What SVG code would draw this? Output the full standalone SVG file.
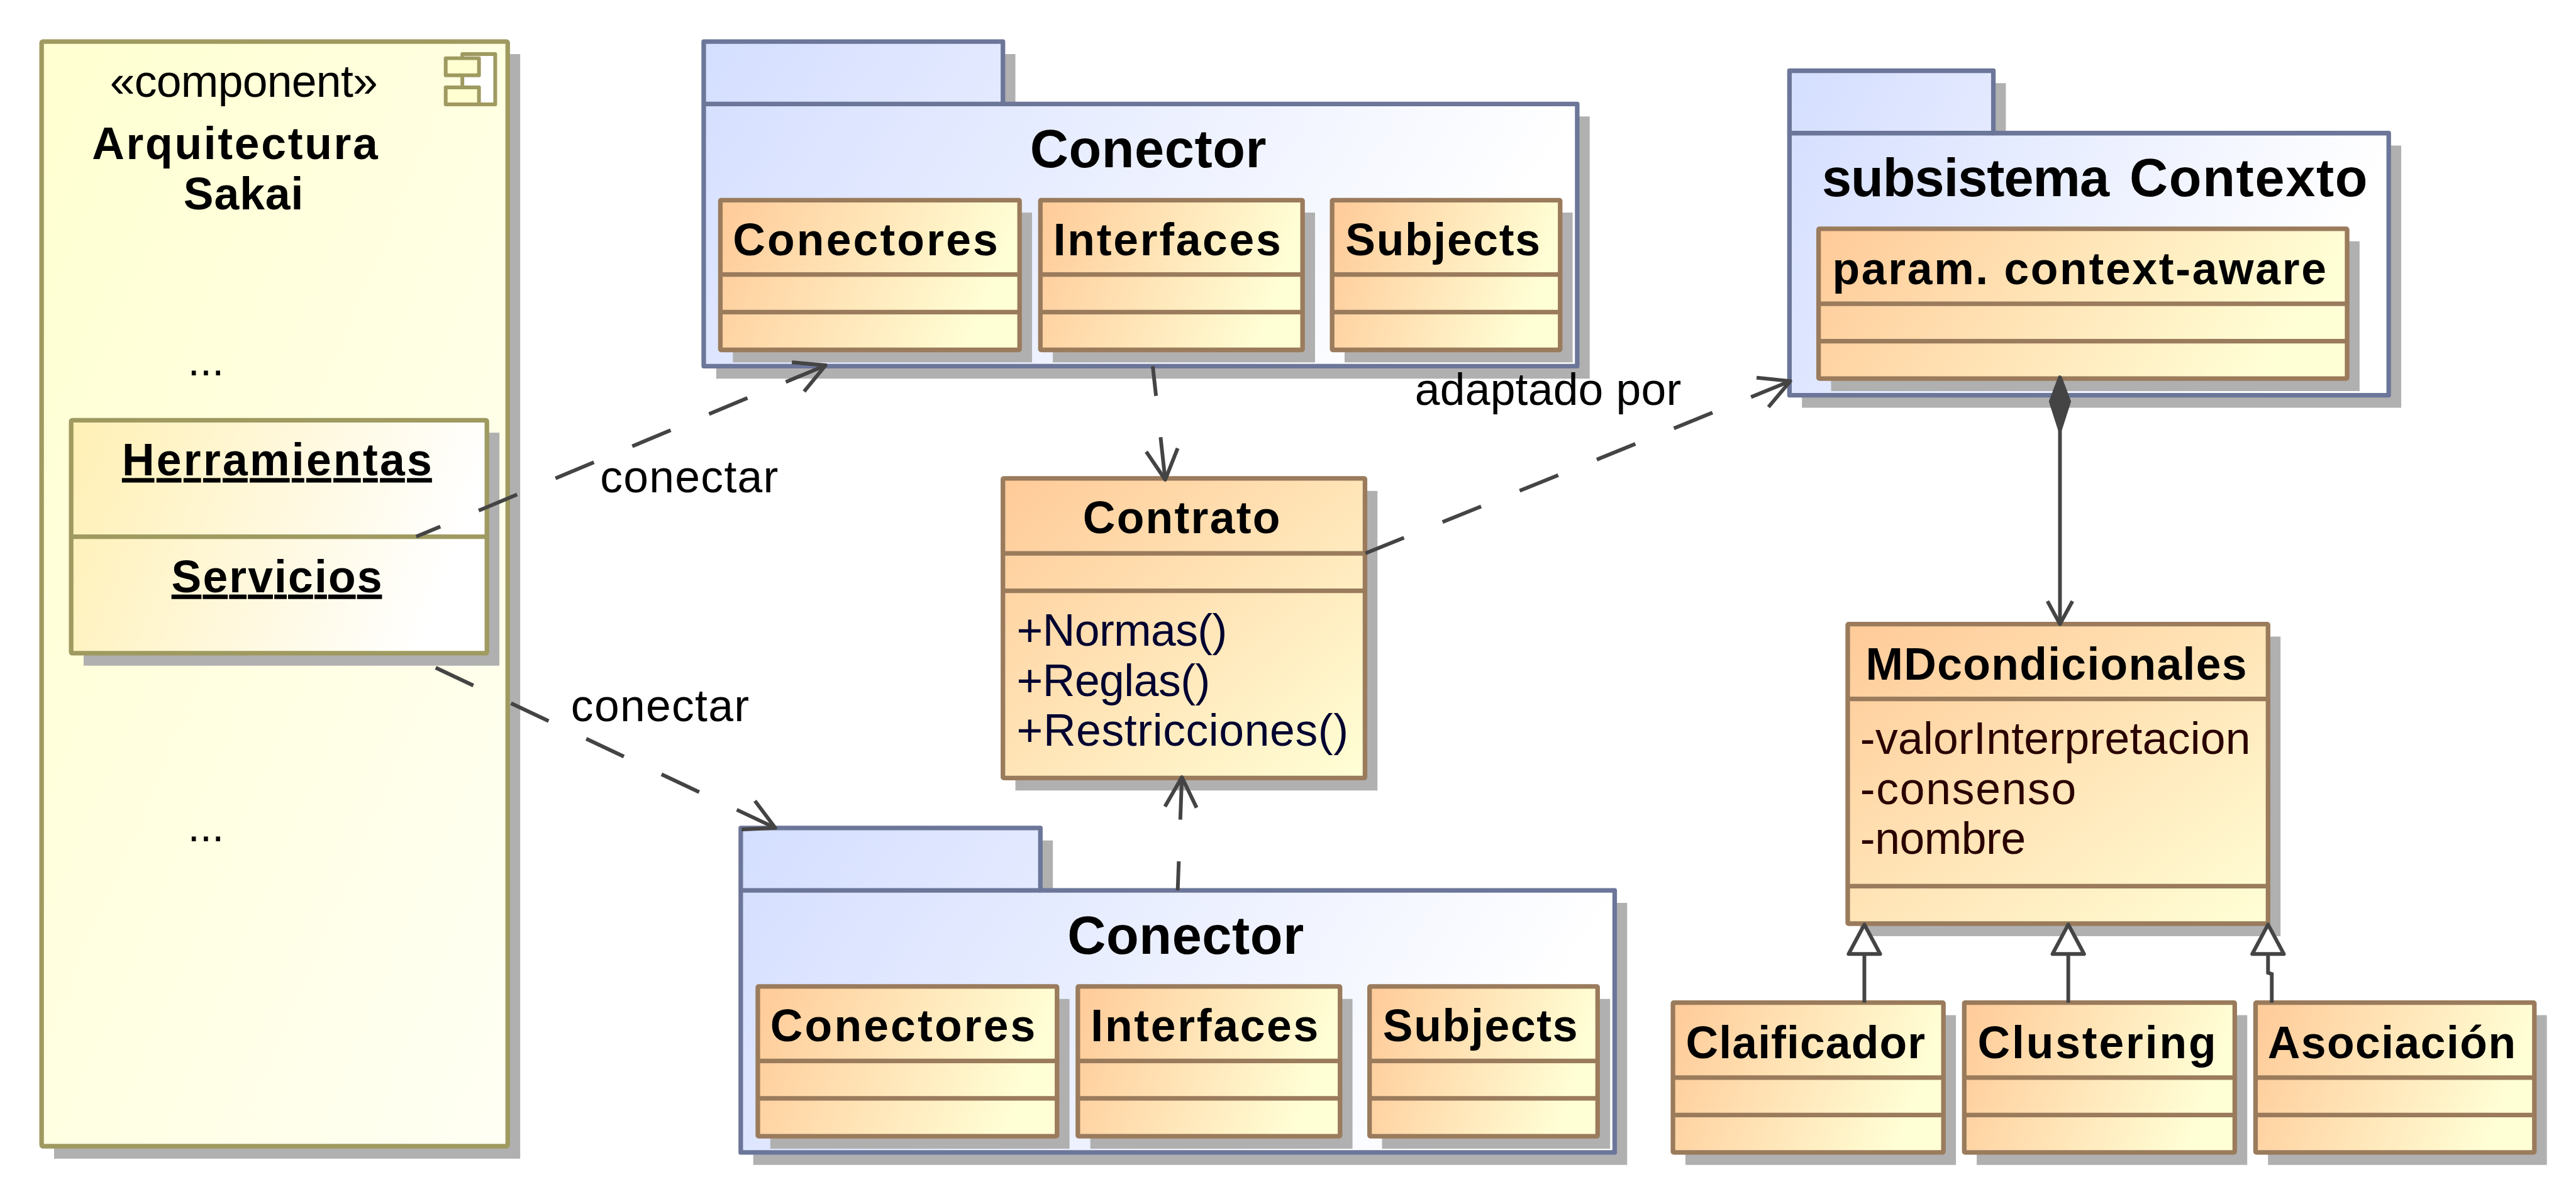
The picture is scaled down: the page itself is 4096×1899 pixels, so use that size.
<svg xmlns="http://www.w3.org/2000/svg" width="4096" height="1899" viewBox="0 0 4096 1899">
<style>
text{font-family:"Liberation Sans",Arial,sans-serif;font-size:108px;fill:#000}
.b{font-weight:bold}
.h{font-weight:bold;font-size:128px}
.u{text-decoration:underline}
.op{fill:#000030}
.at{fill:#2a0000}
.sh{fill:#b0b0b0;stroke:none}
.cl{stroke:#9a7b5c;stroke-width:11;stroke-linejoin:round;fill:url(#orW)}
.cd{stroke:#9a7b5c;stroke-width:11;stroke-linejoin:round;fill:url(#orD)}
.cs{stroke:#9a7b5c;stroke-width:11;fill:none}
.pk{stroke:#6c7699;stroke-width:11;stroke-linejoin:round;fill:url(#bl)}
.ol{stroke:#9f9a60;stroke-width:11;stroke-linejoin:round}
.conn{stroke:#444;stroke-width:9;fill:none}
.dash{stroke-dasharray:100 100;marker-end:url(#open)}
.gen{marker-end:url(#tri)}
.ah{stroke:#444;stroke-width:9;fill:none;stroke-linejoin:round}
</style>
<defs>
<linearGradient id="orW" x1="0" y1="0" x2="1" y2="0.2"><stop offset="0" stop-color="#ffca98"/><stop offset="1" stop-color="#ffffd6"/></linearGradient>
<linearGradient id="orD" x1="0" y1="0" x2="1" y2="1"><stop offset="0" stop-color="#ffca98"/><stop offset="1" stop-color="#ffffd6"/></linearGradient>
<linearGradient id="bl" x1="0" y1="0" x2="1" y2="0.25"><stop offset="0" stop-color="#d4deff"/><stop offset="1" stop-color="#ffffff"/></linearGradient>
<linearGradient id="cmp" x1="0" y1="0" x2="1" y2="1"><stop offset="0" stop-color="#ffffd0"/><stop offset="1" stop-color="#fffff4"/></linearGradient>
<linearGradient id="ins" x1="0" y1="0" x2="1" y2="0.2"><stop offset="0" stop-color="#fff0b4"/><stop offset="1" stop-color="#ffffff"/></linearGradient>
<marker id="open" markerUnits="userSpaceOnUse" markerWidth="100" markerHeight="100" refX="90" refY="50" orient="auto" overflow="visible"><path class="ah" d="M18 12L90 50L18 88"/></marker>
<marker id="openS" markerUnits="userSpaceOnUse" markerWidth="100" markerHeight="100" refX="90" refY="50" orient="auto" overflow="visible"><path class="ah" d="M35 20L90 50L35 80"/></marker>
<marker id="tri" markerUnits="userSpaceOnUse" markerWidth="100" markerHeight="100" refX="90" refY="50" orient="auto" overflow="visible"><path d="M19 12L90 50L19 88Z" fill="#fff" stroke="#444" stroke-width="9" stroke-linejoin="round"/></marker>
</defs>
<rect width="4096" height="1899" fill="#fff"/>
<g transform="scale(0.66171)">

<g id="comp-sakai">
<rect class="sh" x="130" y="130" width="1120" height="2655"/>
<rect class="ol" x="100" y="100" width="1120" height="2655" rx="3" fill="url(#cmp)"/>
<path d="M1111 130H1190V251H1111Z" fill="#fff" stroke="#9f9a60" stroke-width="9" stroke-linejoin="round"/>
<rect x="1071" y="140" width="80" height="41" fill="#ffffd2" stroke="#9f9a60" stroke-width="9" stroke-linejoin="round"/>
<rect x="1071" y="210" width="80" height="41" fill="#ffffd2" stroke="#9f9a60" stroke-width="9" stroke-linejoin="round"/>
<text x="264" y="233" textLength="644">«component»</text>
<text class="b" x="221" y="383" textLength="687">Arquitectura</text>
<text class="b" x="441" y="503" textLength="288">Sakai</text>
<text x="451" y="902" style="font-size:105px">...</text>
<text x="451" y="2022" style="font-size:105px">...</text>
</g>

<g id="inst-herramientas">
<rect class="sh" x="201" y="1040" width="999" height="560"/>
<rect class="ol" x="171" y="1010" width="999" height="560" rx="3" fill="url(#ins)"/>
<path class="ol" d="M171 1290H1170" fill="none"/>
<text class="b u" x="293" y="1143" textLength="745">Herramientas</text>
<text class="b u" x="412" y="1423" textLength="506">Servicios</text>
</g>

<g id="pkg-conector-top">
<path class="sh" d="M1721 130H2440V280H3820V910H1721Z"/>
<path class="pk" d="M1691 100H2410V250H3790V880H1691Z"/>
<path class="cs" style="stroke:#6c7699" d="M1691 250H2410"/>
<text class="h" x="2475" y="402" textLength="568">Conector</text>
<g id="cls-conectores-top">
<rect class="sh" x="1761" y="511" width="719" height="360"/>
<rect class="cl" x="1731" y="481" width="719" height="360" rx="2"/>
<path class="cs" d="M1731 660H2450M1731 750H2450"/>
<text class="b" x="1761" y="613" textLength="637">Conectores</text>
</g>
<g id="cls-interfaces-top">
<rect class="sh" x="2530" y="511" width="630" height="360"/>
<rect class="cl" x="2500" y="481" width="630" height="360" rx="2"/>
<path class="cs" d="M2500 660H3130M2500 750H3130"/>
<text class="b" x="2531" y="613" textLength="547">Interfaces</text>
</g>
<g id="cls-subjects-top">
<rect class="sh" x="3231" y="511" width="548" height="360"/>
<rect class="cl" x="3201" y="481" width="548" height="360" rx="2"/>
<path class="cs" d="M3201 660H3749M3201 750H3749"/>
<text class="b" x="3233" y="613" textLength="468">Subjects</text>
</g>
</g>

<g id="pkg-conector-bottom">
<path class="sh" d="M1810 2020H2530V2170H3910V2800H1810Z"/>
<path class="pk" d="M1780 1990H2500V2140H3880V2770H1780Z"/>
<path class="cs" style="stroke:#6c7699" d="M1780 2140H2500"/>
<text class="h" x="2565" y="2292" textLength="568">Conector</text>
<g id="cls-conectores-bottom">
<rect class="sh" x="1851" y="2401" width="719" height="360"/>
<rect class="cl" x="1821" y="2371" width="719" height="360" rx="2"/>
<path class="cs" d="M1821 2550H2540M1821 2640H2540"/>
<text class="b" x="1851" y="2503" textLength="637">Conectores</text>
</g>
<g id="cls-interfaces-bottom">
<rect class="sh" x="2620" y="2401" width="630" height="360"/>
<rect class="cl" x="2590" y="2371" width="630" height="360" rx="2"/>
<path class="cs" d="M2590 2550H3220M2590 2640H3220"/>
<text class="b" x="2621" y="2503" textLength="547">Interfaces</text>
</g>
<g id="cls-subjects-bottom">
<rect class="sh" x="3321" y="2401" width="548" height="360"/>
<rect class="cl" x="3291" y="2371" width="548" height="360" rx="2"/>
<path class="cs" d="M3291 2550H3839M3291 2640H3839"/>
<text class="b" x="3323" y="2503" textLength="468">Subjects</text>
</g>
</g>

<g id="cls-contrato">
<rect class="sh" x="2440" y="1180" width="870" height="720"/>
<rect class="cd" x="2410" y="1150" width="870" height="720" rx="2"/>
<path class="cs" d="M2410 1330H3280M2410 1420H3280"/>
<text class="b" x="2602" y="1282" textLength="474">Contrato</text>
<text class="op" x="2443" y="1552" textLength="506">+Normas()</text>
<text class="op" x="2443" y="1673" textLength="465">+Reglas()</text>
<text class="op" x="2443" y="1793" textLength="797">+Restricciones()</text>
</g>

<g id="pkg-contexto">
<path class="sh" d="M4330 200H4820V350H5770V980H4330Z"/>
<path class="pk" d="M4300 170H4790V320H5740V950H4300Z"/>
<path class="cs" style="stroke:#6c7699" d="M4300 320H4790"/>
<text class="h" x="4378" y="471"><tspan letter-spacing="-1.5">subsistema</tspan> <tspan x="5117" letter-spacing="2.5">Contexto</tspan></text>
<g id="cls-param">
<rect class="sh" x="4400" y="580" width="1270" height="360"/>
<rect class="cl" x="4370" y="550" width="1270" height="360" rx="2"/>
<path class="cs" d="M4370 730H5640M4370 820H5640"/>
<text class="b" x="4403" y="683" textLength="1187">param. context-aware</text>
</g>
</g>

<g id="cls-mdcondicionales">
<rect class="sh" x="4470" y="1530" width="1010" height="720"/>
<rect class="cd" x="4440" y="1500" width="1010" height="720" rx="2"/>
<path class="cs" d="M4440 1680H5450M4440 2130H5450"/>
<text class="b" x="4483" y="1633" textLength="916">MDcondicionales</text>
<text class="at" x="4470" y="1812" textLength="938">-valorInterpretacion</text>
<text class="at" x="4470" y="1933" textLength="519">-consenso</text>
<text class="at" x="4470" y="2053" textLength="398">-nombre</text>
</g>

<g id="cls-clasificador">
<rect class="sh" x="4050" y="2440" width="650" height="360"/>
<rect class="cl" x="4020" y="2410" width="650" height="360" rx="2"/>
<path class="cs" d="M4020 2590H4670M4020 2680H4670"/>
<text class="b" x="4051" y="2543" textLength="575">Claificador</text>
</g>
<g id="cls-clustering">
<rect class="sh" x="4750" y="2440" width="650" height="360"/>
<rect class="cl" x="4720" y="2410" width="650" height="360" rx="2"/>
<path class="cs" d="M4720 2590H5370M4720 2680H5370"/>
<text class="b" x="4752" y="2543" textLength="573">Clustering</text>
</g>
<g id="cls-asociacion">
<rect class="sh" x="5450" y="2440" width="670" height="360"/>
<rect class="cl" x="5420" y="2410" width="670" height="360" rx="2"/>
<path class="cs" d="M5420 2590H6090M5420 2680H6090"/>
<text class="b" x="5449" y="2543" textLength="596">Asociación</text>
</g>

<g id="connectors" class="conn">
<path class="dash" stroke-dashoffset="37" d="M1000 1290L1984 878"/>
<path class="dash" d="M1047 1605L1863 1990"/>
<path class="dash" stroke-dashoffset="28" d="M2770 880L2800 1153"/>
<path class="dash" stroke-dashoffset="30" d="M2830 2140L2840 1868"/>
<path class="dash" d="M3281 1330L4302 916"/>
<path d="M4950 1034V1500" marker-end="url(#openS)"/>
<path d="M4950 907L4972 965L4950 1034L4928 965Z" fill="#444" stroke-linejoin="round"/>
<path class="gen" d="M4480 2410V2222"/>
<path class="gen" d="M4970 2410V2222"/>
<path class="gen" d="M5459 2410V2341L5450 2338V2222"/>
</g>

<g id="labels">
<text x="1442" y="1183" textLength="428">conectar</text>
<text x="1372" y="1733" textLength="428">conectar</text>
<text x="3400" y="973" textLength="640">adaptado por</text>
</g>
</g>
</svg>
